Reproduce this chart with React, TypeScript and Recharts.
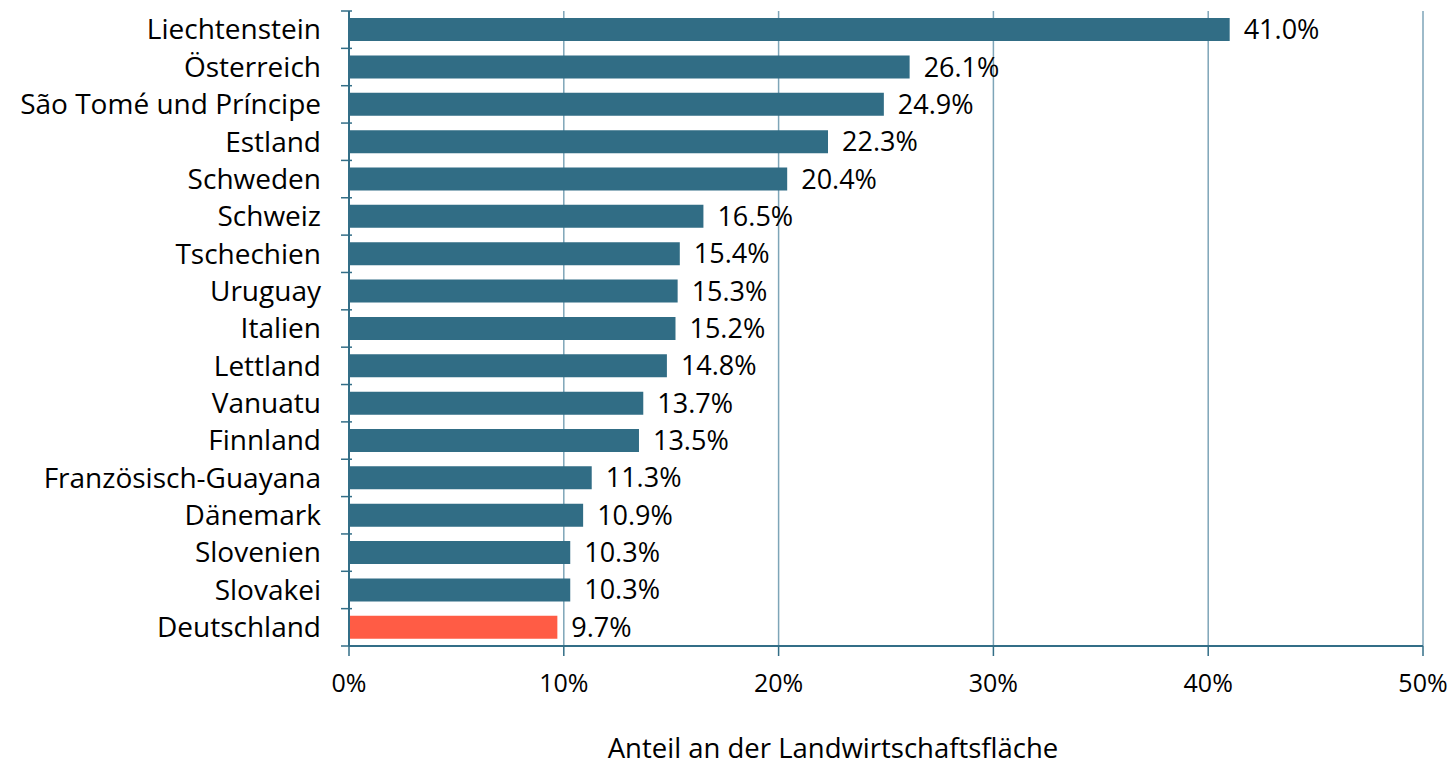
import React from 'react';
import { BarChart, Bar, XAxis, YAxis, CartesianGrid, Cell, LabelList } from 'recharts';

const countries = [
  'Liechtenstein', 'Österreich', 'São Tomé und Príncipe', 'Estland', 'Schweden', 'Schweiz',
  'Tschechien', 'Uruguay', 'Italien', 'Lettland', 'Vanuatu', 'Finnland',
  'Französisch-Guayana', 'Dänemark', 'Slovenien', 'Slovakei', 'Deutschland',
];
const shares = [41.0, 26.1, 24.9, 22.3, 20.4, 16.5, 15.4, 15.3, 15.2, 14.8, 13.7, 13.5, 11.3, 10.9, 10.3, 10.3, 9.7];
const xTicks = [0, 10, 20, 30, 40, 50];
const highlight = 'Deutschland';

const data = countries.map((name, i) => ({ name, value: shares[i] }));

const FONT = '"Open Sans", Lato, sans-serif';
const BLUE = '#316d85';
const ORANGE = '#ff5c45';
const AXIS = '#336e87';
const GRID = '#7ea5b8';

const W = 1454;
const H = 765;
const M = { top: 11, right: 31, bottom: 0, left: 0 };
const Y_W = 349;
const X_H = 119;
const band = (H - M.top - M.bottom - X_H) / countries.length;

// category label at band center, tick marks on band boundaries
const CatTick = (props: any) => {
  const { x, y, payload, index } = props;
  const right = x + 11;
  return (
    <g>
      <line x1={right - 11} x2={right} y1={y - band / 2} y2={y - band / 2} stroke={AXIS} strokeWidth={1.5} />
      {index === countries.length - 1 && (
        <line x1={right - 11} x2={right} y1={y + band / 2} y2={y + band / 2} stroke={AXIS} strokeWidth={1.5} />
      )}
      <text x={right - 31} y={y} dy="0.35em" textAnchor="end" fontSize={28} fill="#000" fontFamily={FONT}>
        {payload.value}
      </text>
    </g>
  );
};

export default function App() {
  return (
    <div style={{ position: 'fixed', left: 0, top: 0, background: '#fff' }}>
      <BarChart
        width={W}
        height={H}
        data={data}
        layout="vertical"
        margin={M}
        barCategoryGap="19%"
      >
        <CartesianGrid horizontal={false} stroke={GRID} strokeWidth={1.5} />
        <XAxis
          type="number"
          domain={[0, 50]}
          ticks={xTicks}
          interval={0}
          height={X_H}
          tickFormatter={(v: number) => `${v}%`}
          tick={{ fontSize: 25, fill: '#000', fontFamily: FONT }}
          tickSize={10}
          tickMargin={18}
          axisLine={{ stroke: AXIS, strokeWidth: 2 }}
          tickLine={{ stroke: AXIS, strokeWidth: 1.5 }}
          label={{
            value: 'Anteil an der Landwirtschaftsfläche',
            position: 'insideBottom',
            offset: 7,
            dx: -53,
            fontSize: 27.5,
            fill: '#000',
            fontFamily: FONT,
          }}
        />
        <YAxis
          type="category"
          dataKey="name"
          width={Y_W}
          interval={0}
          tickLine={false}
          tick={<CatTick />}
          axisLine={{ stroke: AXIS, strokeWidth: 2 }}
        />
        <Bar dataKey="value" isAnimationActive={false}>
          {data.map((d) => (
            <Cell key={d.name} fill={d.name === highlight ? ORANGE : BLUE} />
          ))}
          <LabelList
            dataKey="value"
            position="right"
            offset={14}
            formatter={(v: any) => `${Number(v).toFixed(1)}%`}
            style={{ fontSize: 27, fill: '#000', fontFamily: FONT }}
          />
        </Bar>
      </BarChart>
    </div>
  );
}
